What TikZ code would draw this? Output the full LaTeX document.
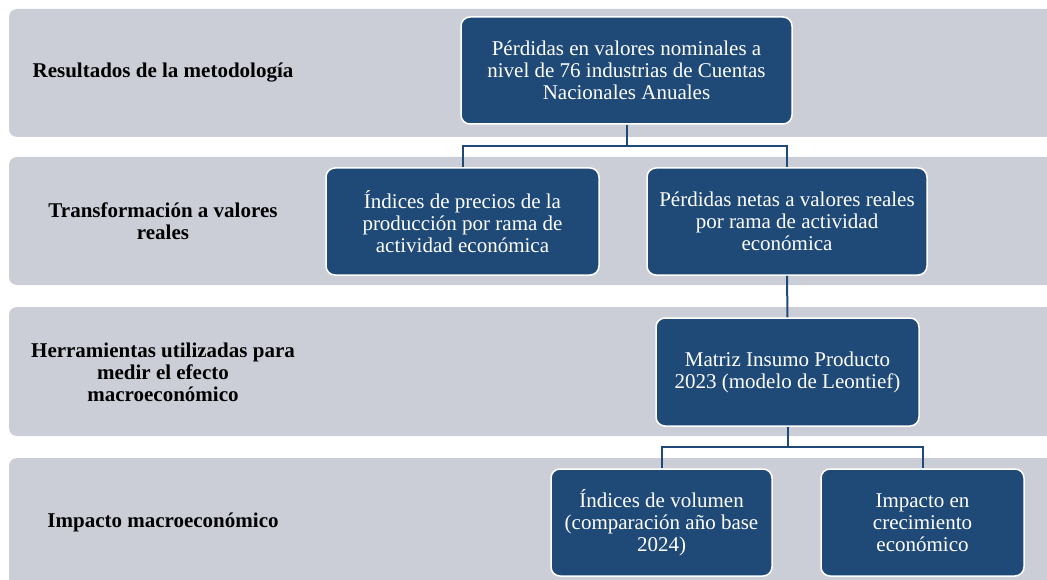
\documentclass[tikz,border=0pt]{standalone}
\usepackage{fontspec}
\setmainfont{Liberation Serif}
\definecolor{band}{HTML}{CBCED6}
\definecolor{boxblue}{HTML}{1F4A78}
\begin{document}
\begin{tikzpicture}[x=1pt,y=-1pt,
  bandbox/.style={fill=band, rounded corners=8pt},
  bluebox/.style={draw=white, line width=1.5pt, fill=boxblue, rounded corners=9pt, text=white, align=center, font=\fontsize{21}{22}\selectfont, inner sep=0pt},
  lbl/.style={align=center, font=\bfseries\fontsize{21}{22}\selectfont},
  conn/.style={draw=boxblue, line width=2pt}]
\useasboundingbox (0,0) rectangle (1047,580);
\begin{scope}
\clip (0,0) rectangle (1047,580);
\fill[bandbox] (9,9) rectangle (1070,137);
\fill[bandbox] (9,157) rectangle (1070,285);
\fill[bandbox] (9,307) rectangle (1070,436);
\fill[bandbox] (9,458) rectangle (1070,610);
\end{scope}

\node[lbl] (L1) at (163,73) {Resultados de la metodología};
\node[lbl] (L2) at (163,221.5) {Transformación a valores\\reales};
\node[lbl] (L3) at (163,372) {Herramientas utilizadas para\\medir el efecto\\macroeconómico};
\node[lbl] (L4) at (163,522) {Impacto macroeconómico};

\node[bluebox, minimum width=331pt, minimum height=107pt] (A) at (626.5,70.5) {Pérdidas en valores nominales a\\nivel de 76 industrias de Cuentas\\Nacionales Anuales};
\node[bluebox, minimum width=273pt, minimum height=107pt] (B) at (462.5,221.5) {Índices de precios de la\\producción por rama de\\actividad económica};
\node[bluebox, minimum width=280pt, minimum height=107pt] (C) at (787,221.5) {Pérdidas netas a valores reales\\por rama de actividad\\económica};
\node[bluebox, minimum width=263pt, minimum height=108pt] (D) at (787.5,372) {Matriz Insumo Producto\\2023 (modelo de Leontief)};
\node[bluebox, minimum width=221pt, minimum height=107pt] (E) at (661.5,522.5) {Índices de volumen\\(comparación año base\\2024)};
\node[bluebox, minimum width=203pt, minimum height=107pt] (F) at (922.5,522.5) {Impacto en\\crecimiento\\económico};

\coordinate (j1) at (A.south |- 0,146);
\coordinate (j2) at (D.south |- 0,447);
\draw[conn] (A.south) -- (j1);
\draw[conn] (j1) -| (B.north);
\draw[conn] (j1) -| (C.north);
\draw[conn] (C.south) -- (D.north);
\draw[conn] (D.south) -- (j2);
\draw[conn] (j2) -| (E.north);
\draw[conn] (j2) -| (F.north);
\end{tikzpicture}
\end{document}
